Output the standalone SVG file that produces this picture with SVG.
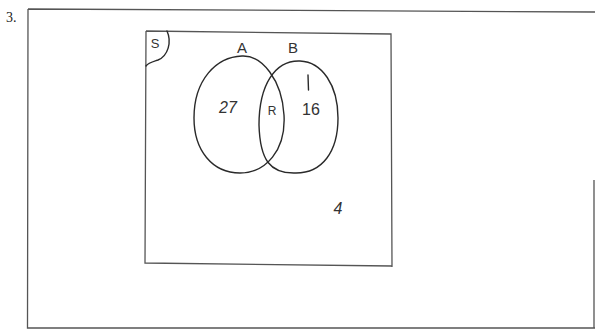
<svg xmlns="http://www.w3.org/2000/svg" width="595" height="330" viewBox="0 0 595 330">
<style>
.frame{fill:none;stroke:#555;stroke-width:1.3}
.pen{fill:none;stroke:#2a2a2a;stroke-width:1.4;stroke-linecap:round}
.hand{font-family:"Liberation Sans","DejaVu Sans",sans-serif;fill:#333;text-anchor:middle}
</style>
<rect width="595" height="330" fill="#fff"/>
<text x="6" y="22" font-family="Liberation Serif,serif" font-size="14" fill="#222">3.</text>
<path class="frame" d="M28 9 L595 12 M28 9 L27.5 328 L595 328 M594 180 L594 328"/>
<g id="universe">
<path class="frame" d="M146 31 L391 34 L392 267 M146 31 L145 263 L392 266"/>
<path class="pen" d="M167 31 C172 42 168 56 158 60 C152 62 148 63 146 66"/>
<text class="hand" x="155" y="48" font-size="13">S</text>
</g>
<g id="setA">
<path class="pen" d="M242 56 C262 55 282 80 284 115 C286 150 266 173 240 173 C212 173 194 150 194 118 C194 80 216 57 242 56 Z"/>
<text class="hand" x="242" y="53" font-size="15">A</text>
<text class="hand" x="228" y="113" font-size="16" font-style="italic">27</text>
</g>
<g id="setB">
<path class="pen" d="M300 61 C322 62 338 85 338 118 C338 152 322 173 296 173 C270 174 260 160 259 125 C259 85 275 60 300 61 Z"/>
<text class="hand" x="293" y="53" font-size="15">B</text>
<text class="hand" x="311" y="115" font-size="16">16</text>
<path class="pen" stroke="#888" stroke-width="0.9" d="M308 75 L308.5 90"/>
</g>
<g id="intersection">
<text class="hand" x="272" y="115" font-size="12">R</text>
</g>
<g id="outside">
<text class="hand" x="338" y="214" font-size="16" font-style="italic">4</text>
</g>
</svg>
